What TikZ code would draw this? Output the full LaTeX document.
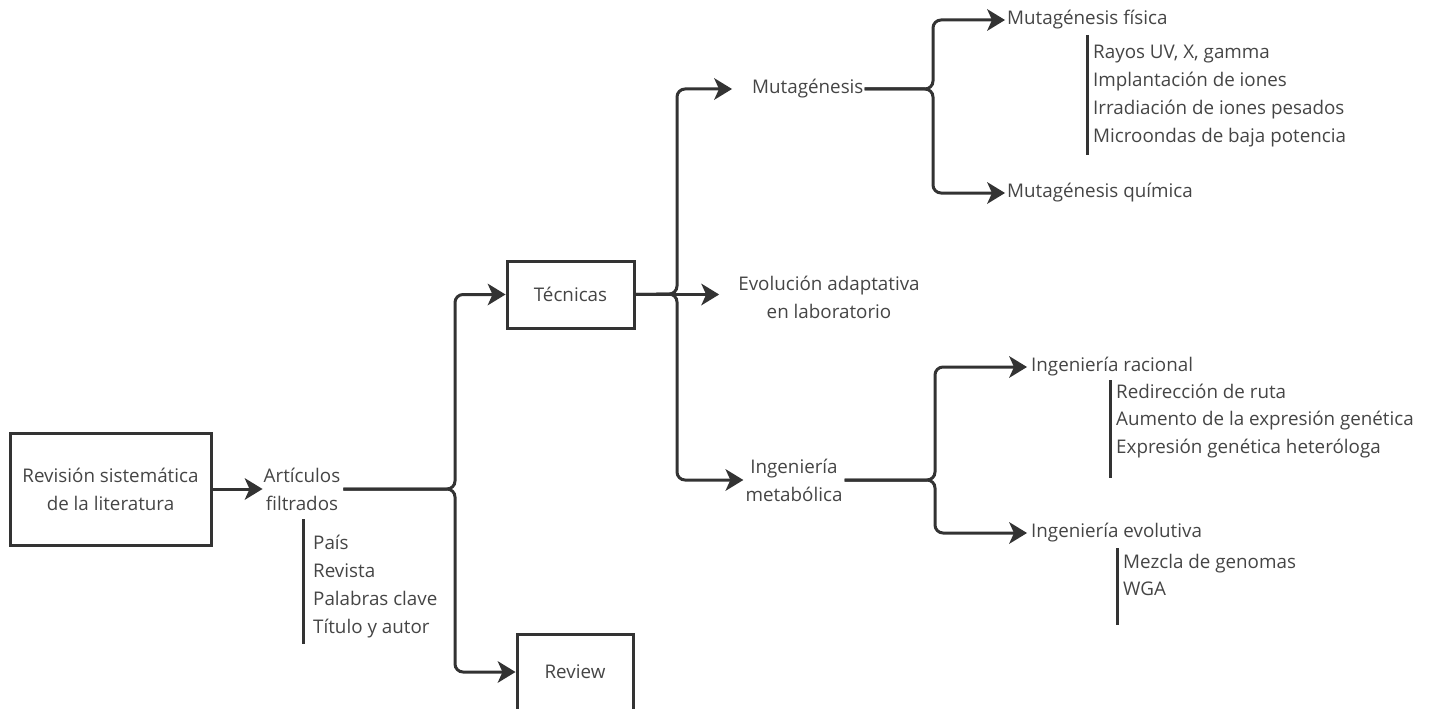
\documentclass[tikz,border=0pt]{standalone}
\usepackage{fontspec}
\setmainfont{Open Sans}
\usetikzlibrary{calc}
\definecolor{ink}{HTML}{333333}
\definecolor{txt}{HTML}{454545}
\begin{document}
\begin{tikzpicture}[x=1pt,y=-1pt,
  every node/.style={font=\fontsize{18.8}{28}\selectfont, text=txt},
  lbl/.style={inner sep=0pt, align=center},
  lst/.style={inner sep=0pt, align=left, anchor=west},
  box/.style={draw=ink, line width=3pt, align=center, inner sep=0pt},
  conn/.style={draw=ink, line width=3pt, rounded corners=8pt, shorten >=10pt},
  head/.pic={\fill[ink, line join=round] (0,0) -- (-18,-11) -- (-13,0) -- (-18,11) -- cycle;},
  bar/.style={draw=ink, line width=3pt}]
\useasboundingbox (0,0) rectangle (1433,709);
\clip (0,0) rectangle (1433,709);
% nodes
\node[box, minimum width=201pt, minimum height=112pt] (rev) at (110.5,489) {Revisión sistemática\\de la literatura};
\node[lbl] (art) at (302,489) {Artículos\\filtrados};
\node[lst] (artl) at (313,587) {País\\Revista\\Palabras clave\\Título y autor};
\node[box, minimum width=127pt, minimum height=67pt] (tec) at (570.5,294.5) {Técnicas};
\node[box, minimum width=116pt, minimum height=76pt] (rvw) at (575,672) {Review};
\node[lbl] (evo) at (829,297) {Evolución adaptativa\\en laboratorio};
\node[lst] (mut) at (752,89) {Mutagénesis};
\node[lbl] (ingm) at (794,480) {Ingeniería\\metabólica};
\node[lst] (mf) at (1007,20) {Mutagénesis física};
\node[lst] (mq) at (1007,193) {Mutagénesis química};
\node[lst] (mfl) at (1093,96) {Rayos UV, X, gamma\\Implantación de iones\\Irradiación de iones pesados\\Microondas de baja potencia};
\node[lst] (ir) at (1031,367) {Ingeniería racional};
\node[lst, font=\fontsize{18.8}{27.5}\selectfont] (irl) at (1116,421) {Redirección de ruta\\Aumento de la expresión genética\\Expresión genética heteróloga};
\node[lst] (ie) at (1031,533) {Ingeniería evolutiva};
\node[lst, font=\fontsize{18.8}{27}\selectfont] (iel) at (1123,574.5) {Mezcla de genomas\\WGA};
% junctions and arrow tips
\coordinate (j1) at (455,489);
\coordinate (j2) at (677,294);
\coordinate (j3) at (933,89);
\coordinate (j4) at (935,480);
\coordinate (tArt) at ([xshift=-1pt]art.west);
\coordinate (tTec) at (tec.west);
\coordinate (tRvw) at (rvw.west);
\coordinate (tMut) at ([xshift=-20pt]mut.west);
\coordinate (tEvo) at ([xshift=-19pt]tec.east -| evo.west);
\coordinate (tIngm) at ([xshift=-2pt]ingm.west);
\coordinate (tMf) at ([xshift=-2pt]mf.west);
\coordinate (tMq) at ([xshift=-2pt]mq.west);
\coordinate (tIr) at ([xshift=-4pt]ir.west);
\coordinate (tIe) at ([xshift=-4pt]ie.west);
% connectors
\draw[conn] (rev.east) -- (tArt);
\draw[conn, shorten <=3pt] (art.east) -- (j1) |- (tTec);
\draw[conn, shorten <=3pt] (art.east) -- (j1) |- (tRvw);
\draw[conn] (tec.east) -- (j2) |- (tMut);
\draw[conn] (tec.east) -- (tEvo);
\draw[conn] (tec.east) -- (j2) |- (tIngm);
\draw[conn, shorten <=1pt] (mut.east) -- (j3) |- (tMf);
\draw[conn, shorten <=1pt] (mut.east) -- (j3) |- (tMq);
\draw[conn, shorten <=2pt] (ingm.east) -- (j4) |- (tIr);
\draw[conn, shorten <=2pt] (ingm.east) -- (j4) |- (tIe);
\foreach \t in {tArt,tTec,tRvw,tMut,tEvo,tIngm,tMf,tMq,tIr,tIe}
  \pic at (\t) {head};
% list bars
\draw[bar] (303,519) -- (303,644);
\draw[bar] (1087,35) -- (1087,155);
\draw[bar] (1110,380) -- (1110,478);
\draw[bar] (1117,548) -- (1117,625);
\end{tikzpicture}
\end{document}
